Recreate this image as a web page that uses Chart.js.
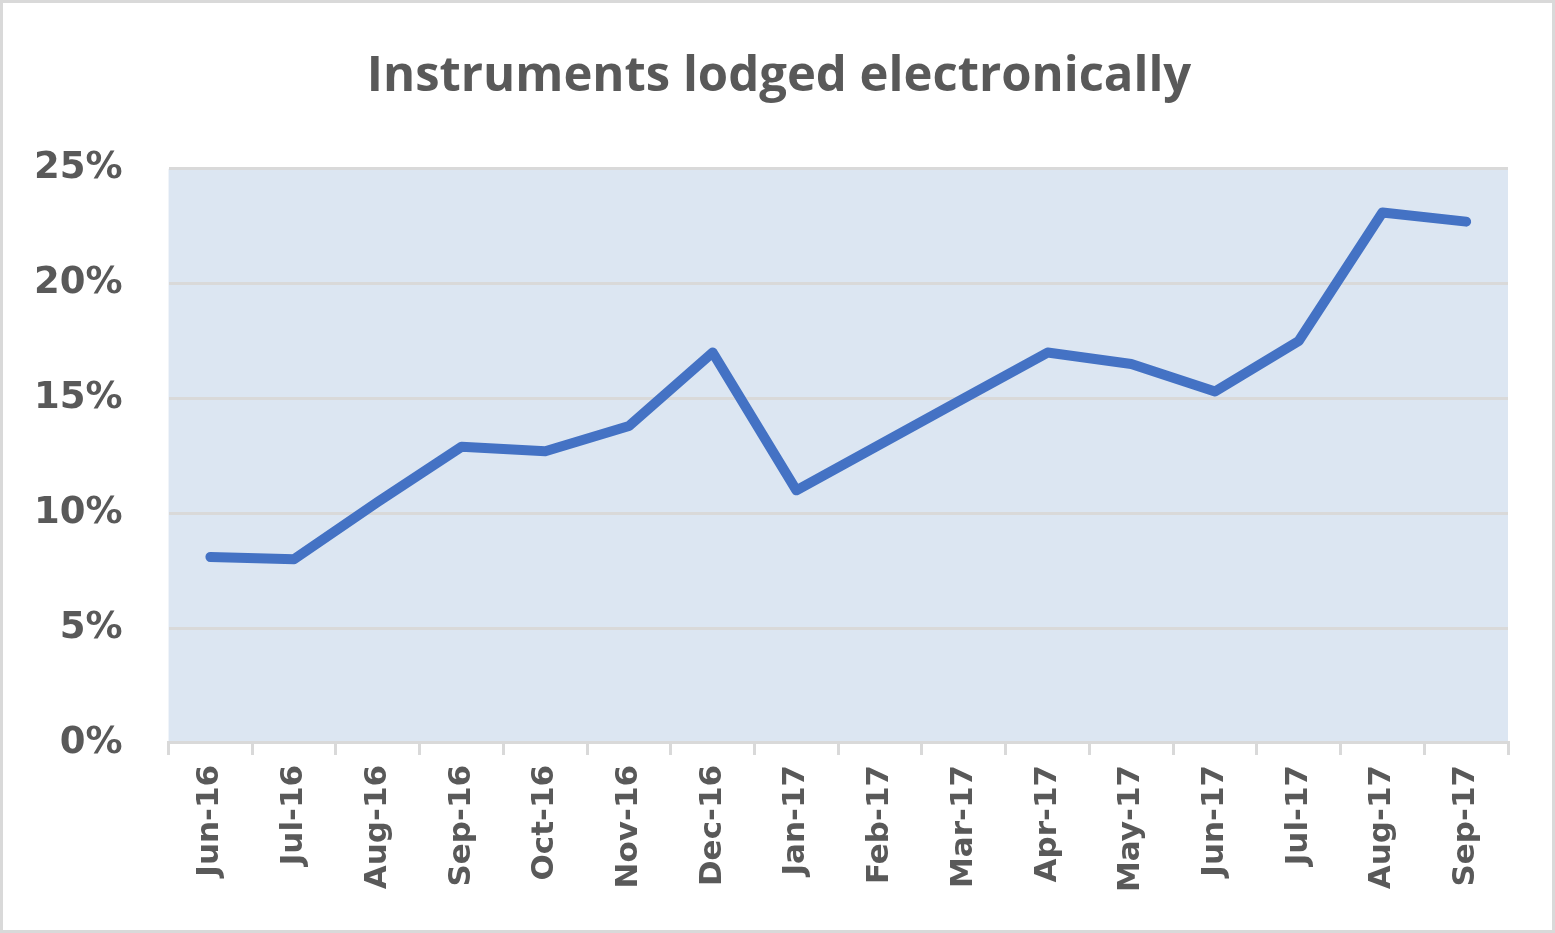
<!DOCTYPE html>
<html>
<head>
<meta charset="utf-8">
<script src="https://cdn.jsdelivr.net/npm/chart.js@4"></script>
<style>
  html, body { margin: 0; padding: 0; background: #fff; }
  #wrap { width: 1555px; height: 933px; box-sizing: border-box; border: 3px solid #d9d9d9; }
  canvas { display: block; }
</style>
</head>
<body>
<div id="wrap"><canvas id="lodged" width="1549" height="927"></canvas></div>
<script>
var months = ['Jun-16', 'Jul-16', 'Aug-16', 'Sep-16', 'Oct-16', 'Nov-16', 'Dec-16', 'Jan-17',
              'Feb-17', 'Mar-17', 'Apr-17', 'May-17', 'Jun-17', 'Jul-17', 'Aug-17', 'Sep-17'];
var electronicPct = [8.1, 8.0, 10.5, 12.9, 12.7, 13.8, 17.0, 11.0,
                     13.0, 15.0, 17.0, 16.5, 15.3, 17.5, 23.1, 22.7];
var yTicks = [0, 5, 10, 15, 20, 25];

// light blue plot area like the Excel original
var plotBg = {
    id: 'plotBg',
    beforeDraw: function (chart) {
        var a = chart.chartArea;
        var ctx = chart.ctx;
        ctx.save();
        ctx.fillStyle = '#dce6f2';
        ctx.fillRect(a.left, a.top, a.right - a.left, a.bottom - a.top);
        ctx.restore();
    }
};

var el = document.getElementById('lodged');

var lodgedChart = new Chart(el, {
    type: 'line',
    data: {
        labels: months,
        datasets: [
            {
                label: 'Instruments lodged electronically',
                data: electronicPct,
                borderColor: '#4472c4',
                borderWidth: 10,
                borderCapStyle: 'round',
                borderJoinStyle: 'round',
                pointRadius: 0,
                tension: 0,
                fill: false
            }
        ]
    },
    options: {
        responsive: false,
        animation: false,
        devicePixelRatio: 1,
        layout: { padding: { left: 3, right: 0, bottom: 28, top: 0 } },
        plugins: {
            legend: { display: false },
            tooltip: { enabled: false },
            title: {
                display: true,
                text: 'Instruments lodged electronically',
                color: '#595959',
                font: { family: 'Open Sans', size: 49, weight: 'bold' },
                padding: { top: 45, bottom: 62 }
            }
        },
        scales: {
            x: {
                offset: true,
                grid: {
                    display: true,
                    drawOnChartArea: false,
                    drawTicks: true,
                    tickLength: 12,
                    color: '#d9d9d9',
                    lineWidth: 3,
                    offset: true
                },
                border: { display: true, color: '#d9d9d9', width: 3 },
                ticks: {
                    color: '#595959',
                    font: { family: 'DejaVu Sans', size: 31, weight: 'bold' },
                    minRotation: 90,
                    maxRotation: 90,
                    padding: 10,
                    autoSkip: false
                }
            },
            y: {
                min: 0,
                max: 25,
                afterBuildTicks: function (axis) {
                    axis.ticks = yTicks.map(function (v) { return { value: v }; });
                },
                afterFit: function (axis) { axis.width -= 18; },
                grid: { color: '#d9d9d9', lineWidth: 3, drawTicks: false },
                border: { display: false },
                ticks: {
                    color: '#595959',
                    font: { family: 'DejaVu Sans', size: 37, weight: 'bold' },
                    padding: 46,
                    callback: function (v) { return v + '%'; }
                }
            },
            // empty strip on the right so the plot stops short of the frame
            yRight: {
                position: 'right',
                grid: { display: false },
                border: { display: false },
                ticks: { display: false },
                afterFit: function (axis) { axis.width = 44; }
            }
        }
    },
    plugins: [plotBg]
});
</script>
</body>
</html>
